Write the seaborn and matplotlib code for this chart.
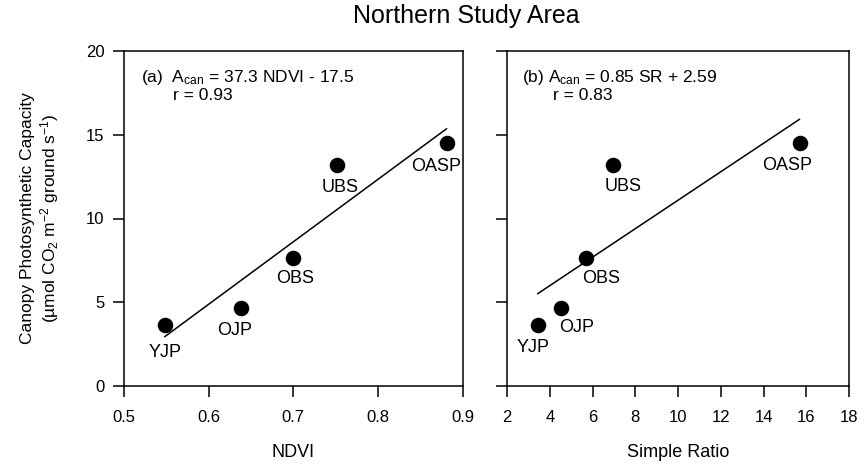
import numpy as np
import matplotlib
matplotlib.use("Agg")
import matplotlib.pyplot as plt
import seaborn as sns

# Site data
sites = ["YJP", "OJP", "OBS", "UBS", "OASP"]
ndvi = [0.548, 0.638, 0.700, 0.751, 0.881]
sr = [3.43, 4.52, 5.70, 6.96, 15.69]
acan = [3.64, 4.64, 7.66, 13.2, 14.49]

# fitted lines (as printed in the panels)
fit_a = (37.3, -17.5)
fit_b = (0.85, 2.59)

# label offsets (px) relative to the points
off_a = [(0, -27), (-6, -22), (2, -21), (4, -23), (-10, -23)]
off_b = [(-4, -22), (16, -19), (15, -21), (10, -22), (-12, -22)]

sns.set_style("ticks")
plt.rcParams["font.family"] = ["Liberation Sans", "DejaVu Sans"]
plt.rcParams["mathtext.default"] = "regular"
for k in ["text.color", "axes.labelcolor", "axes.edgecolor",
          "xtick.color", "ytick.color"]:
    plt.rcParams[k] = "black"

fig = plt.figure(figsize=(8.61, 4.66), dpi=100)
ax1 = fig.add_axes([124 / 861, 80 / 466, 338.7 / 861, 335 / 466])
ax2 = fig.add_axes([507 / 861, 80 / 466, 342 / 861, 335 / 466])


def panel(ax, x, fit, offsets):
    sns.scatterplot(x=x, y=acan, ax=ax, s=125, color="black",
                    edgecolor="black", linewidth=0, zorder=3)
    xl = np.array([min(x), max(x)])
    sns.lineplot(x=xl, y=fit[0] * xl + fit[1], ax=ax, color="black",
                 linewidth=1.1)
    for name, xi, yi, (dx, dy) in zip(sites, x, acan, offsets):
        ax.annotate(name, (xi, yi), xytext=(dx * 0.72, dy * 0.72),
                    textcoords="offset points", ha="center", va="center",
                    fontsize=13)
    ax.set_ylim(0, 20)
    ax.set_yticks([0, 5, 10, 15, 20])
    for s in ax.spines.values():
        s.set_visible(True)
        s.set_linewidth(1.1)
    ax.tick_params(direction="out", length=8, width=1.1, colors="black",
                   labelsize=12)
    ax.tick_params(axis="x", pad=9)
    ax.tick_params(axis="y", pad=6)


panel(ax1, ndvi, fit_a, off_a)
ax1.set_xlim(0.5, 0.9)
ax1.set_xticks([0.5, 0.6, 0.7, 0.8, 0.9])
ax1.set_xlabel("NDVI", fontsize=13, labelpad=14)
ax1.set_ylabel("Canopy Photosynthetic Capacity\n"
               "(\u00b5mol CO$_2$ m$^{-2}$ ground s$^{-1}$)",
               fontsize=12.5, labelpad=18)
ax1.text(0.05, 0.907, "(a)  A$_{can}$ = 37.3 NDVI - 17.5",
         transform=ax1.transAxes, fontsize=12.5, va="baseline")
ax1.text(0.146, 0.853, "r = 0.93", transform=ax1.transAxes,
         fontsize=12.5, va="baseline")

panel(ax2, sr, fit_b, off_b)
ax2.set_xlim(2, 18)
ax2.set_xticks(range(2, 19, 2))
ax2.set_yticklabels([])
ax2.set_xlabel("Simple Ratio", fontsize=13, labelpad=14)
ax2.set_ylabel("")
ax2.text(0.043, 0.907, "(b) A$_{can}$ = 0.85 SR + 2.59",
         transform=ax2.transAxes, fontsize=12.5, va="baseline")
ax2.text(0.134, 0.853, "r = 0.83", transform=ax2.transAxes,
         fontsize=12.5, va="baseline")

fig.text(466 / 861, 1 - 16 / 466, "Northern Study Area", fontsize=18,
         ha="center", va="center")

fig.savefig("out.png", dpi=100)
